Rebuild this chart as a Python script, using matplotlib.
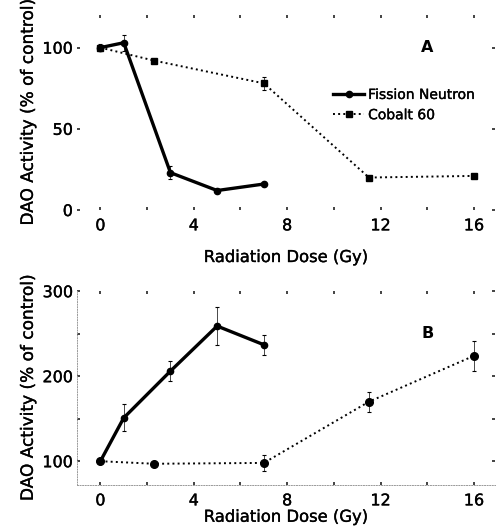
import matplotlib
matplotlib.use("Agg")
import matplotlib.pyplot as plt
import matplotlib.patheffects as pe

plt.rcParams['font.family'] = ['DejaVu Sans']
# slightly heavier strokes on the text
heavy = [pe.withStroke(linewidth=0.25, foreground='black')]

# Panel A: DAO activity after irradiation
fission_dose_a = [0, 1, 3, 5, 7]
fission_act_a = [100, 103, 23, 12, 16]
fission_err_a = [2, 5, 4, 1, 1]
cobalt_dose_a = [0, 2.3, 7, 11.5, 16]
cobalt_act_a = [100, 92, 78, 20, 21]
cobalt_err_a = [1, 1, 4, 1, 1]

# Panel B
fission_dose_b = [0, 1, 3, 5, 7]
fission_act_b = [100, 151, 206, 259, 237]
fission_err_b = [3, 16, 12, 22, 12]
cobalt_dose_b = [0, 2.3, 7, 11.5, 16]
cobalt_act_b = [100, 97, 98, 170, 224]
cobalt_err_b = [2, 3, 9, 12, 18]

xticks = [0, 4, 8, 12, 16]

fig = plt.figure(figsize=(4.97, 5.31), dpi=100)
ax_a = fig.add_axes([0.155, 0.6045, 0.841, 0.367])
ax_b = fig.add_axes([0.155, 0.0866, 0.841, 0.365])


def style_axes(ax):
    for sp in ax.spines.values():
        sp.set_visible(False)
    ax.set_xlim(-1, 16.9)
    ax.set_xticks(xticks)
    ax.set_xticks([2, 6, 10, 14], minor=True)
    ax.tick_params(which='both', direction='in', length=2, width=1.2,
                   top=True, right=True, colors='#222222', labelsize=11.5,
                   labelcolor='black', pad=6)
    ax.tick_params(axis='y', pad=3)
    ax.set_xlabel('Radiation Dose (Gy)', fontsize=11.8)
    ax.set_ylabel('DAO Activity (% of control)', fontsize=12.2, labelpad=4)
    for t in ax.get_xticklabels() + ax.get_yticklabels():
        t.set_path_effects(heavy)
    ax.xaxis.label.set_path_effects(heavy)
    ax.yaxis.label.set_path_effects(heavy)


ebar = dict(fmt='none', ecolor='black', elinewidth=0.5, capsize=1.2, capthick=0.8)

ax_a.errorbar(fission_dose_a, fission_act_a, yerr=fission_err_a, **ebar)
ax_a.errorbar(cobalt_dose_a, cobalt_act_a, yerr=cobalt_err_a, **ebar)
ax_a.plot(fission_dose_a, fission_act_a, color='black', lw=2.4, marker='o',
          ms=4.5, label='Fission Neutron')
ax_a.plot(cobalt_dose_a, cobalt_act_a, color='black', lw=1.4, ls=':',
          marker='s', ms=4.5, label='Cobalt 60')
style_axes(ax_a)
ax_a.set_ylim(0, 120)
ax_a.set_yticks([0, 50, 100])
ax_a.xaxis.labelpad = 12
ax_a.text(14, 100, 'A', fontsize=11.5, fontweight='bold', ha='center', va='center')
leg = ax_a.legend(loc='upper left', bbox_to_anchor=(0.6, 0.655), frameon=False,
                  fontsize=10, handlelength=2.2, handletextpad=0.3,
                  labelspacing=0.45, borderaxespad=0)
for t in leg.get_texts():
    t.set_path_effects(heavy)

ax_b.errorbar(fission_dose_b, fission_act_b, yerr=fission_err_b, **ebar)
ax_b.errorbar(cobalt_dose_b, cobalt_act_b, yerr=cobalt_err_b, **ebar)
ax_b.plot(fission_dose_b, fission_act_b, color='black', lw=2.4, marker='o', ms=4.5)
ax_b.plot(cobalt_dose_b, cobalt_act_b, color='black', lw=1.4, ls=':',
          marker='o', ms=5.5)
style_axes(ax_b)
ax_b.set_ylim(72, 300)
ax_b.set_yticks([100, 200, 300])
ax_b.set_yticks([150, 250], minor=True)
ax_b.spines['left'].set_visible(True)
ax_b.spines['bottom'].set_visible(True)
for side in ('left', 'bottom'):
    ax_b.spines[side].set_color('#999999')
    ax_b.spines[side].set_linestyle(':')
    ax_b.spines[side].set_linewidth(0.7)
ax_b.xaxis.labelpad = 1
ax_b.text(14, 250, 'B', fontsize=11.5, fontweight='bold', ha='center', va='center')

fig.savefig('out.png', dpi=100)
